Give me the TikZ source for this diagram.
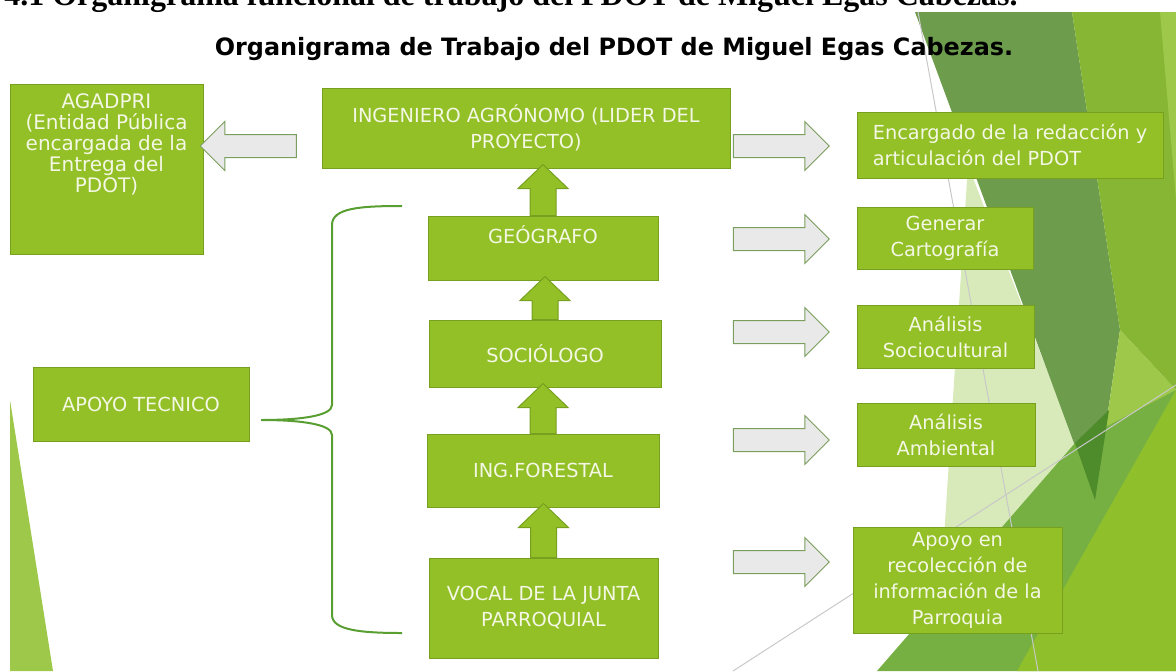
\documentclass[tikz,border=0pt]{standalone}
\usepackage{fontspec}
\setmainfont{DejaVu Sans}
\newfontfamily\capserif{Liberation Serif}
\usepackage{tikz}
\usetikzlibrary{shapes.arrows,calc}

\definecolor{boxgreen}{RGB}{146,192,38}
\definecolor{boxline}{RGB}{118,160,30}
\definecolor{boxtext}{RGB}{244,247,228}
\definecolor{arrowfill}{RGB}{233,233,233}
\definecolor{arrowline}{RGB}{122,158,92}
\definecolor{bracegreen}{RGB}{88,158,48}
\definecolor{bgmuted}{RGB}{108,156,76}
\definecolor{bgyellow}{RGB}{134,182,52}
\definecolor{bglight}{RGB}{158,200,74}
\definecolor{bgpale}{RGB}{216,233,186}
\definecolor{bgmid}{RGB}{118,176,66}
\definecolor{bgbright}{RGB}{143,192,44}
\definecolor{bgdeep}{RGB}{78,139,42}
\definecolor{bgthin}{RGB}{200,200,200}

\tikzset{
  box/.style={draw=boxline, line width=0.75pt, fill=boxgreen, text=boxtext, align=center,
    inner sep=1pt, font=\fontsize{14.5}{19.5}\selectfont},
  boxwh/.style 2 args={minimum width=#1*0.75pt, minimum height=#2*0.75pt},
  grayarrow/.style={single arrow, draw=arrowline, line width=0.75pt, fill=arrowfill,
    minimum height=72pt, inner sep=0pt, inner ysep=8.25pt, single arrow head extend=9.75pt},
  greenarrow/.style={draw=boxline, line width=0.75pt, fill=boxgreen},
  brace/.style={draw=bracegreen, line width=1.5pt},
}

% up arrow from the lower box (#1) to the upper box (#2)
\newcommand{\upstep}[2]{%
  \filldraw[greenarrow] ($(#1.north)+(-13,0)$) -- ($(#2.south -| #1.north)+(-13,20)$)
    -- ($(#2.south -| #1.north)+(-25,20)$) -- ($(#2.south -| #1.north)+(0,-4)$)
    -- ($(#2.south -| #1.north)+(25,20)$) -- ($(#2.south -| #1.north)+(13,20)$)
    -- ($(#1.north)+(13,0)$) -- cycle;}

\begin{document}
\begin{tikzpicture}[x=0.75pt,y=0.75pt,yscale=-1,xscale=1]
    \useasboundingbox (0,0) rectangle (1176,671);
    \clip (0,0) rectangle (1176,671);

    %Background facets
    \fill[bgpale] (968,165) -- (1075,443) -- (940,600) -- cycle;
    \fill[bgmuted] (915,12) -- (1072,12) -- (1120,330) -- (1095,500) -- cycle;
    \fill[bgyellow] (1072,12) -- (1176,12) -- (1176,390) -- (1120,330) -- cycle;
    \fill[bglight] (1160,12) -- (1176,12) -- (1176,200) -- cycle;
    \fill[bglight] (1120,330) -- (1176,390) -- (1102,560) -- (1095,500) -- cycle;
    \fill[bgmid] (877,671) -- (1075,443) -- (1176,390) -- (1176,671) -- cycle;
    \fill[bgdeep] (1075,443) -- (1109,410) -- (1095,500) -- cycle;
    \fill[bgbright] (1017,671) -- (1176,390) -- (1176,671) -- cycle;
    \fill[bglight] (10,400) -- (53,671) -- (10,671) -- cycle;
    %Thin lines
    \draw[bgthin, line width=0.75pt] (918,12) -- (1038,671);
    \draw[bgthin, line width=0.75pt] (733,671) -- (1176,385);

    % Text Node
    \node[anchor=base west, inner sep=0pt, font=\capserif\bfseries\fontsize{24}{28}\selectfont] (caption) at (4,6)
      {4.1 Organigrama funcional de trabajo del PDOT de Miguel Egas Cabezas.};
    % Text Node
    \node[anchor=base, inner sep=0pt, font=\bfseries\fontsize{17.9}{22}\selectfont] (title) at (614,55)
      {Organigrama de Trabajo del PDOT de Miguel Egas Cabezas.};

    %Boxes
    \node[box, boxwh={193}{170}, font=\fontsize{15}{15.75}\selectfont] (agadpri) at (106.5,169)
      {AGADPRI\\(Entidad Pública\\encargada de la\\Entrega del\\PDOT)\\[22.5pt]~};
    \node[box, boxwh={408}{80}] (ing) at (526,128) {INGENIERO AGRÓNOMO (LIDER DEL\\PROYECTO)};
    \node[box, boxwh={230}{64}] (geo) at (543,248) {GEÓGRAFO\\~};
    \node[box, boxwh={232}{67}] (soc) at (545,353.5) {SOCIÓLOGO};
    \node[box, boxwh={232}{73}] (forestal) at (543,470.5) {ING.FORESTAL};
    \node[box, boxwh={229}{100}] (vocal) at (543.5,608) {VOCAL DE LA JUNTA\\PARROQUIAL};
    \node[box, boxwh={216}{74}] (apoyo) at (141,404) {APOYO TECNICO};

    \node[box, boxwh={306}{66}, align=left] (redac) at (1010,145) {Encargado de la redacción y\\articulación del PDOT};
    \node[box, boxwh={176}{62}] (carto) at (945,238) {Generar\\Cartografía};
    \node[box, boxwh={177}{63}] (socio) at (945.5,336.5) {Análisis\\Sociocultural};
    \node[box, boxwh={178}{63}] (ambiental) at (946,434.5) {Análisis\\Ambiental};
    \node[box, boxwh={209}{106}] (recol) at (957.5,580) {Apoyo en\\recolección de\\información de la\\Parroquia};

    %Grey arrows
    \node[grayarrow, shape border rotate=180] (la1) at (254,146) {};
    \node[grayarrow] (ra1) at (775.5,146) {};
    \node[grayarrow] (ra2) at (775.5,239) {};
    \node[grayarrow] (ra3) at (775.5,332) {};
    \node[grayarrow] (ra4) at (775.5,440) {};
    \node[grayarrow] (ra5) at (775.5,562) {};

    %Up arrows
    \upstep{geo}{ing}
    \upstep{soc}{geo}
    \upstep{forestal}{soc}
    \upstep{vocal}{forestal}

    %Brace
    \coordinate (brtop) at (402,206);
    \coordinate (brtip) at (261,420);
    \coordinate (brbot) at (402,633);
    \draw[brace] (brtop) .. controls (360,206) and (332,208) .. (332,225) -- (332,405)
      .. controls (332,416) and (300,420) .. (brtip)
      .. controls (300,420) and (332,424) .. (332,435) -- (332,615)
      .. controls (332,630) and (360,633) .. (brbot);

\end{tikzpicture}
\end{document}
